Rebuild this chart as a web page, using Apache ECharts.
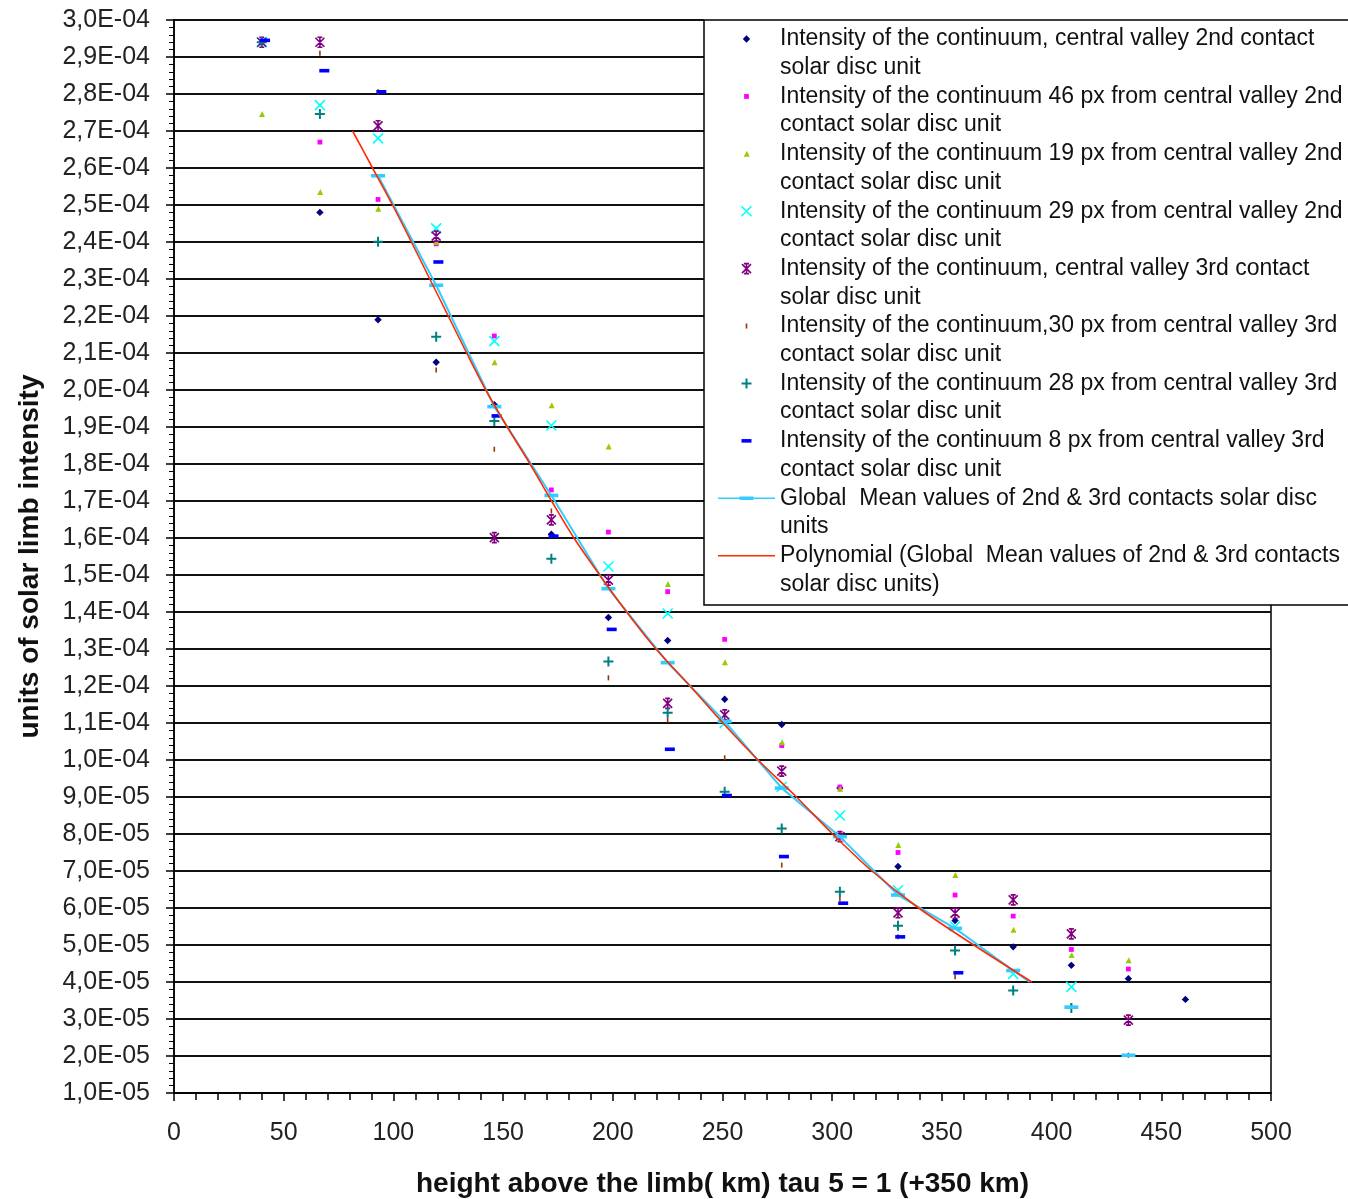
<!DOCTYPE html>
<html>
<head>
<meta charset="utf-8">
<title>Solar limb intensity versus height above the limb</title>
<script src="https://cdn.jsdelivr.net/npm/echarts@6/dist/echarts.min.js"></script>
<style>
  html, body { margin: 0; padding: 0; background: #fff; }
  #chart { width: 1348px; height: 1199px; }
</style>
</head>
<body>
<div id="chart"></div>
<script>
// Heights above the limb (km) of the sampled columns
const HEIGHT_KM = [40, 66.5, 93, 119.5, 146, 172, 198, 225, 251, 277, 303.5, 330, 356, 382.5, 409, 435, 461];
// The 8 px profile was sampled slightly further out
const HEIGHT_KM_8PX = [41.5, 68.5, 94.5, 120.5, 147, 173, 199.5, 226, 252, 278, 305, 331, 357.5];

// Intensities (solar disc units); null = no sample at that height
const CENTRAL_2ND = [2.94e-4, 2.48e-4, 2.19e-4, 2.075e-4, 1.96e-4, 1.61e-4, 1.385e-4, 1.323e-4, 1.164e-4, 1.096e-4, 9.24e-5, 7.12e-5, 5.66e-5, 4.95e-5, 4.45e-5, 4.09e-5, 3.53e-5];
const PX46_2ND = [null, 2.67e-4, 2.515e-4, 2.395e-4, 2.146e-4, 1.73e-4, 1.616e-4, 1.455e-4, 1.326e-4, 1.039e-4, 9.27e-5, 7.5e-5, 6.35e-5, 5.78e-5, 4.88e-5, 4.35e-5, null];
const PX19_2ND = [2.746e-4, 2.535e-4, 2.49e-4, 2.40e-4, 2.075e-4, 1.959e-4, 1.847e-4, 1.476e-4, 1.264e-4, 1.048e-4, 9.22e-5, 7.7e-5, 6.89e-5, 5.41e-5, 4.73e-5, 4.59e-5, null];
const PX29_2ND = [2.94e-4, 2.77e-4, 2.68e-4, 2.437e-4, 2.132e-4, 1.904e-4, 1.523e-4, 1.396e-4, 1.10e-4, 9.27e-5, 8.5e-5, 6.48e-5, 5.5e-5, 4.22e-5, 3.87e-5, null, null];
const CENTRAL_3RD = [2.94e-4, 2.94e-4, 2.714e-4, 2.416e-4, 1.601e-4, 1.649e-4, 1.486e-4, 1.153e-4, 1.122e-4, 9.7e-5, 7.93e-5, 5.87e-5, 5.86e-5, 6.22e-5, 5.3e-5, 2.97e-5, null];
const PX30_3RD = [2.94e-4, 2.91e-4, 2.806e-4, 2.054e-4, 1.84e-4, 1.673e-4, 1.222e-4, 1.108e-4, 1.006e-4, 7.16e-5, 6.26e-5, 5.22e-5, 4.14e-5, 3.8e-5, 3.35e-5, 2.02e-5, null];
const PX28_3RD = [2.94e-4, 2.746e-4, 2.401e-4, 2.144e-4, 1.916e-4, 1.544e-4, 1.266e-4, 1.128e-4, 9.14e-5, 8.15e-5, 6.44e-5, 5.52e-5, 4.85e-5, 3.77e-5, 3.3e-5, null, null];
const PX8_3RD = [2.945e-4, 2.863e-4, 2.806e-4, 2.346e-4, 1.93e-4, 1.605e-4, 1.353e-4, 1.029e-4, 9.04e-5, 7.39e-5, 6.13e-5, 5.22e-5, 4.25e-5];

// Global mean of both contacts
const GLOBAL_MEAN_KM = [93, 119.5, 146, 172, 198, 225, 251, 277, 303.5, 330, 356, 382.5, 409, 435];
const GLOBAL_MEAN = [2.579e-4, 2.283e-4, 1.955e-4, 1.715e-4, 1.463e-4, 1.263e-4, 1.104e-4, 9.24e-5, 7.93e-5, 6.35e-5, 5.45e-5, 4.31e-5, 3.32e-5, 2.02e-5];
// The connected part of the mean line ends here (km, intensity)
const GLOBAL_MEAN_LINE_END = [390, 4.0e-5];

// Polynomial trend of the global mean
const POLY_KM = [81.4, 90.5, 99.6, 108.2, 116.6, 125.0, 133.4, 142.1, 151.9, 162.3, 172.1, 182.3, 194.0, 206.3, 219.7, 235.2, 250.2, 266.2, 283.7, 300.2, 318.1, 339.4, 364.5, 391.0];
const POLY_FIT = [2.7e-4, 2.6e-4, 2.5e-4, 2.4e-4, 2.3e-4, 2.2e-4, 2.1e-4, 2.0e-4, 1.9e-4, 1.8e-4, 1.7e-4, 1.6e-4, 1.5e-4, 1.4e-4, 1.3e-4, 1.2e-4, 1.1e-4, 1.0e-4, 9.0e-5, 8.0e-5, 7.0e-5, 6.0e-5, 5.0e-5, 4.0e-5];

const SERIES_NAMES = [
  'Intensity of the continuum, central valley 2nd contact\nsolar disc unit',
  'Intensity of the continuum 46 px from central valley 2nd\ncontact solar disc unit',
  'Intensity of the continuum 19 px from central valley 2nd\ncontact solar disc unit',
  'Intensity of the continuum 29 px from central valley 2nd\ncontact solar disc unit',
  'Intensity of the continuum, central valley 3rd contact\nsolar disc unit',
  'Intensity of the continuum,30 px from central valley 3rd\ncontact solar disc unit',
  'Intensity of the continuum 28 px from central valley 3rd\ncontact solar disc unit',
  'Intensity of the continuum 8 px from central valley 3rd\ncontact solar disc unit',
  'Global  Mean values of 2nd & 3rd contacts solar disc\nunits',
  'Polynomial (Global  Mean values of 2nd & 3rd contacts\nsolar disc units)'
];

const FONT = '"Liberation Sans", Arial, Helvetica, sans-serif';

// Marker shapes drawn inside a 12x12 box (the two leading moves fix the box)
const SYM = {
  diamond: 'path://M0,0M12,12M6,2.3L9.7,6L6,9.7L2.3,6Z',
  square: 'path://M0,0M12,12M3.6,3.6H8.4V8.4H3.6Z',
  triangle: 'path://M0,0M12,12M6.5,3L9.2,9H3.2Z',
  cross: 'path://M0,0M12,12M1,1L11,11M11,1L1,11',
  star: 'path://M0,0M12,12M1.5,1.5L10.5,10.5M10.5,1.5L1.5,10.5M6,1V11M3.5,1H8.5M3.5,11H8.5',
  tick: 'path://M0,0M12,12M5.2,3.5H6.8V8.5H5.2Z',
  plus: 'path://M0,0M12,12M6,1V11M1,6H11',
  dash: 'path://M0,0M12,12M1,4.2H11V7.8H1Z',
  meanDash: 'path://M0,0M16,16M1,6.2H15V9.8H1Z'
};
const LEGEND_MEAN_ICON = 'path://M0,0M57,12M0,5.2H57V6.8H0ZM21.5,4.2H35.5V7.8H21.5Z';
const LEGEND_LINE_ICON = 'path://M0,0M57,12M0,5.25H57V6.75H0Z';

const COLORS = ['#000080', '#ff00ff', '#99cc00', '#00ffff', '#800080', '#993300', '#008080', '#0000ff', '#33ccff', '#ff2a00'];

function points(xs, ys) {
  const out = [];
  ys.forEach((v, i) => { if (v !== null) out.push([xs[i], v]); });
  return out;
}

function sciLabel(v) {
  let e = Math.floor(Math.log10(v) + 1e-9);
  let m = v / Math.pow(10, e);
  let ms = m.toFixed(1);
  if (ms === '10.0') { e += 1; ms = '1.0'; }
  return ms.replace('.', ',') + 'E' + (e < 0 ? '-' : '+') + String(Math.abs(e)).padStart(2, '0');
}

// Global mean: connected run, end of the drawn line, then the two loose markers
const meanData = [];
for (let i = 0; i < 12; i++) meanData.push([GLOBAL_MEAN_KM[i], GLOBAL_MEAN[i]]);
meanData.push({ value: GLOBAL_MEAN_LINE_END, symbol: 'none' });
meanData.push([400, '-']);
meanData.push([GLOBAL_MEAN_KM[12], GLOBAL_MEAN[12]]);
meanData.push([420, '-']);
meanData.push([GLOBAL_MEAN_KM[13], GLOBAL_MEAN[13]]);

const scatterDefs = [
  { xs: HEIGHT_KM, ys: CENTRAL_2ND, sym: SYM.diamond, stroke: 0 },
  { xs: HEIGHT_KM, ys: PX46_2ND, sym: SYM.square, stroke: 0 },
  { xs: HEIGHT_KM, ys: PX19_2ND, sym: SYM.triangle, stroke: 0 },
  { xs: HEIGHT_KM, ys: PX29_2ND, sym: SYM.cross, stroke: 1.6 },
  { xs: HEIGHT_KM, ys: CENTRAL_3RD, sym: SYM.star, stroke: 1.6 },
  { xs: HEIGHT_KM, ys: PX30_3RD, sym: SYM.tick, stroke: 0 },
  { xs: HEIGHT_KM, ys: PX28_3RD, sym: SYM.plus, stroke: 2 },
  { xs: HEIGHT_KM_8PX, ys: PX8_3RD, sym: SYM.dash, stroke: 0 }
];

const series = scatterDefs.map((d, i) => {
  const style = { color: COLORS[i], opacity: 1 };
  if (d.stroke) { style.borderColor = COLORS[i]; style.borderWidth = d.stroke; }
  return {
    name: SERIES_NAMES[i],
    type: 'scatter',
    data: points(d.xs, d.ys),
    symbol: d.sym,
    symbolSize: 12,
    itemStyle: style,
    z: 3
  };
});

series.push({
  name: SERIES_NAMES[8],
  type: 'line',
  data: meanData,
  symbol: SYM.meanDash,
  symbolSize: 16,
  showSymbol: true,
  connectNulls: false,
  lineStyle: { color: COLORS[8], width: 2 },
  itemStyle: { color: COLORS[8] },
  z: 4
});

series.push({
  name: SERIES_NAMES[9],
  type: 'line',
  data: points(POLY_KM, POLY_FIT),
  symbol: 'none',
  showSymbol: false,
  smooth: 0.3,
  lineStyle: { color: COLORS[9], width: 1.6 },
  itemStyle: { color: COLORS[9] },
  z: 5
});

const legendData = scatterDefs.map((d, i) => ({
  name: SERIES_NAMES[i],
  icon: d.sym,
  itemStyle: d.stroke
    ? { color: COLORS[i], borderColor: COLORS[i], borderWidth: d.stroke }
    : { color: COLORS[i], borderWidth: 0 }
}));
legendData.push({ name: SERIES_NAMES[8], icon: LEGEND_MEAN_ICON, itemStyle: { color: COLORS[8], borderWidth: 0 } });
legendData.push({ name: SERIES_NAMES[9], icon: LEGEND_LINE_ICON, itemStyle: { color: COLORS[9], borderWidth: 0 } });

const chart = echarts.init(document.getElementById('chart'), null, { renderer: 'canvas' });

chart.setOption({
  animation: false,
  backgroundColor: '#fff',
  grid: {
    left: 174, right: 77, top: 20, bottom: 106,
    containLabel: false, outerBoundsMode: 'none',
    show: true, borderColor: '#000', borderWidth: 1.5, backgroundColor: 'transparent'
  },
  xAxis: {
    type: 'value', min: 0, max: 500, interval: 50,
    name: 'height above the limb( km) tau 5 = 1 (+350 km)',
    nameLocation: 'middle', nameGap: 77,
    nameTextStyle: { fontFamily: FONT, fontWeight: 'bold', fontSize: 28, color: '#111' },
    axisLine: { show: true, onZero: false, lineStyle: { color: '#000', width: 1.5 } },
    axisTick: { show: true, length: 8, lineStyle: { color: '#000', width: 1.5 } },
    minorTick: { show: true, splitNumber: 5, length: 7, lineStyle: { color: '#000', width: 1.5 } },
    splitLine: { show: false },
    minorSplitLine: { show: false },
    axisLabel: { fontFamily: FONT, fontSize: 25, color: '#222', margin: 28 }
  },
  yAxis: {
    type: 'value', min: 1e-5, max: 3e-4, interval: 1e-5,
    name: 'units of solar limb intensity',
    nameLocation: 'middle', nameGap: 130, nameRotate: 90,
    nameTextStyle: { fontFamily: FONT, fontWeight: 'bold', fontSize: 28, color: '#111' },
    axisLine: { show: true, onZero: false, lineStyle: { color: '#000', width: 1.5 } },
    axisTick: { show: true, length: 8, lineStyle: { color: '#000', width: 1.5 } },
    minorTick: { show: true, splitNumber: 5, length: 5, lineStyle: { color: '#000', width: 1 } },
    splitLine: { show: true, lineStyle: { color: '#111', width: 2 } },
    minorSplitLine: { show: false },
    axisLabel: { fontFamily: FONT, fontSize: 25, color: '#222', margin: 24, formatter: sciLabel }
  },
  legend: {
    orient: 'vertical',
    left: 704, top: -4,
    padding: [0, 400, 6, 14],
    itemWidth: 57, itemHeight: 12, itemGap: -28.7,
    backgroundColor: '#fff', borderWidth: 0,
    selectedMode: false,
    symbolKeepAspect: true,
    textStyle: { fontFamily: FONT, fontSize: 23, lineHeight: 28.7, color: '#111' },
    formatter: name => '\n' + name,
    data: legendData
  },
  graphic: [{
    type: 'rect', silent: true, z: 100,
    shape: { x: 704, y: 20, width: 700, height: 585 },
    style: { fill: null, stroke: '#000', lineWidth: 1.5 }
  }],
  series: series
});
</script>
</body>
</html>
